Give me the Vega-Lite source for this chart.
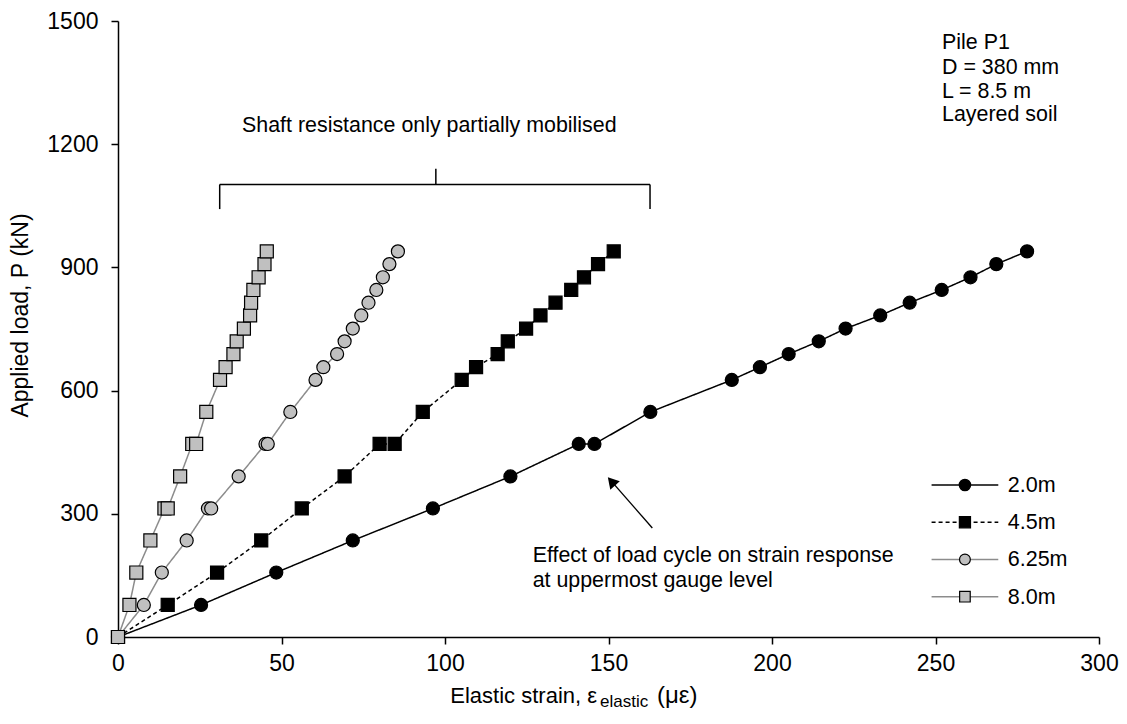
{
  "$schema": "https://vega.github.io/schema/vega-lite/v6.json",
  "autosize": {"type": "none"},
  "width": 981,
  "height": 616,
  "padding": {"left": 118, "top": 21, "right": 28, "bottom": 87},
  "background": "white",
  "config": {
    "view": {"stroke": null},
    "font": "Liberation Sans",
    "axis": {
      "domainColor": "black", "domainWidth": 1.5,
      "tickColor": "black", "tickWidth": 1.5, "tickSize": 7,
      "labelFont": "Liberation Sans", "labelFontSize": 23, "labelColor": "black",
      "titleFont": "Liberation Sans", "titleFontSize": 23, "titleFontWeight": "normal", "titleColor": "black",
      "grid": false, "labelFlush": false, "labelOverlap": false, "format": "d"
    }
  },
  "datasets": {
    "strain": [
      {"series": "2.0m", "load": 0, "strain": 0},
      {"series": "2.0m", "load": 78, "strain": 25.4},
      {"series": "2.0m", "load": 157, "strain": 48.4},
      {"series": "2.0m", "load": 235, "strain": 71.8},
      {"series": "2.0m", "load": 313, "strain": 96.3},
      {"series": "2.0m", "load": 391, "strain": 120.0},
      {"series": "2.0m", "load": 470, "strain": 140.9},
      {"series": "2.0m", "load": 470, "strain": 145.7},
      {"series": "2.0m", "load": 548, "strain": 162.8},
      {"series": "2.0m", "load": 626, "strain": 187.7},
      {"series": "2.0m", "load": 657, "strain": 196.3},
      {"series": "2.0m", "load": 689, "strain": 205.1},
      {"series": "2.0m", "load": 720, "strain": 214.3},
      {"series": "2.0m", "load": 751, "strain": 222.5},
      {"series": "2.0m", "load": 783, "strain": 233.1},
      {"series": "2.0m", "load": 814, "strain": 242.1},
      {"series": "2.0m", "load": 845, "strain": 251.9},
      {"series": "2.0m", "load": 876, "strain": 260.7},
      {"series": "2.0m", "load": 908, "strain": 268.6},
      {"series": "2.0m", "load": 939, "strain": 278.0},
      {"series": "4.5m", "load": 0, "strain": 0},
      {"series": "4.5m", "load": 78, "strain": 15.2},
      {"series": "4.5m", "load": 157, "strain": 30.3},
      {"series": "4.5m", "load": 235, "strain": 43.8},
      {"series": "4.5m", "load": 313, "strain": 56.2},
      {"series": "4.5m", "load": 391, "strain": 69.3},
      {"series": "4.5m", "load": 470, "strain": 80.0},
      {"series": "4.5m", "load": 470, "strain": 84.6},
      {"series": "4.5m", "load": 548, "strain": 93.2},
      {"series": "4.5m", "load": 626, "strain": 105.1},
      {"series": "4.5m", "load": 657, "strain": 109.5},
      {"series": "4.5m", "load": 689, "strain": 116.1},
      {"series": "4.5m", "load": 720, "strain": 119.2},
      {"series": "4.5m", "load": 751, "strain": 124.8},
      {"series": "4.5m", "load": 783, "strain": 129.2},
      {"series": "4.5m", "load": 814, "strain": 133.8},
      {"series": "4.5m", "load": 845, "strain": 138.6},
      {"series": "4.5m", "load": 876, "strain": 142.5},
      {"series": "4.5m", "load": 908, "strain": 146.8},
      {"series": "4.5m", "load": 939, "strain": 151.6},
      {"series": "6.25m", "load": 0, "strain": 0},
      {"series": "6.25m", "load": 78, "strain": 7.9},
      {"series": "6.25m", "load": 157, "strain": 13.4},
      {"series": "6.25m", "load": 235, "strain": 21.0},
      {"series": "6.25m", "load": 313, "strain": 27.5},
      {"series": "6.25m", "load": 313, "strain": 28.5},
      {"series": "6.25m", "load": 391, "strain": 36.9},
      {"series": "6.25m", "load": 470, "strain": 45.1},
      {"series": "6.25m", "load": 470, "strain": 45.8},
      {"series": "6.25m", "load": 548, "strain": 52.7},
      {"series": "6.25m", "load": 626, "strain": 60.4},
      {"series": "6.25m", "load": 657, "strain": 62.8},
      {"series": "6.25m", "load": 689, "strain": 67.0},
      {"series": "6.25m", "load": 720, "strain": 69.3},
      {"series": "6.25m", "load": 751, "strain": 71.8},
      {"series": "6.25m", "load": 783, "strain": 74.4},
      {"series": "6.25m", "load": 814, "strain": 76.6},
      {"series": "6.25m", "load": 845, "strain": 79.0},
      {"series": "6.25m", "load": 876, "strain": 81.0},
      {"series": "6.25m", "load": 908, "strain": 83.0},
      {"series": "6.25m", "load": 939, "strain": 85.6},
      {"series": "8.0m", "load": 0, "strain": 0},
      {"series": "8.0m", "load": 78, "strain": 3.5},
      {"series": "8.0m", "load": 157, "strain": 5.6},
      {"series": "8.0m", "load": 235, "strain": 9.9},
      {"series": "8.0m", "load": 313, "strain": 14.2},
      {"series": "8.0m", "load": 313, "strain": 15.2},
      {"series": "8.0m", "load": 391, "strain": 19.0},
      {"series": "8.0m", "load": 470, "strain": 22.7},
      {"series": "8.0m", "load": 470, "strain": 23.9},
      {"series": "8.0m", "load": 548, "strain": 27.0},
      {"series": "8.0m", "load": 626, "strain": 31.2},
      {"series": "8.0m", "load": 657, "strain": 32.9},
      {"series": "8.0m", "load": 689, "strain": 35.3},
      {"series": "8.0m", "load": 720, "strain": 36.3},
      {"series": "8.0m", "load": 751, "strain": 38.5},
      {"series": "8.0m", "load": 783, "strain": 40.4},
      {"series": "8.0m", "load": 814, "strain": 40.7},
      {"series": "8.0m", "load": 845, "strain": 41.4},
      {"series": "8.0m", "load": 876, "strain": 43.0},
      {"series": "8.0m", "load": 908, "strain": 44.8},
      {"series": "8.0m", "load": 939, "strain": 45.5}
    ],
    "legendRows": [
      {"series": "2.0m"},
      {"series": "4.5m"},
      {"series": "6.25m"},
      {"series": "8.0m"}
    ]
  },
  "resolve": {"scale": {"y": "independent"}, "axis": {"y": "independent"}},
  "layer": [
    {
      "layer": [
        {
          "data": {"name": "strain"},
          "mark": {"type": "line", "strokeWidth": 1.5},
          "encoding": {
            "x": {"field": "strain", "type": "quantitative", "scale": {"domain": [0, 300], "nice": false},
                  "axis": {"title": null, "values": [0, 50, 100, 150, 200, 250, 300], "labelPadding": 8}},
            "y": {"field": "load", "type": "quantitative", "scale": {"domain": [0, 1500], "nice": false},
                  "axis": {"title": "Applied load, P (kN)", "values": [0, 300, 600, 900, 1200, 1500], "labelPadding": 13, "titlePadding": 14, "titleY": 294}},
            "color": {"field": "series", "type": "nominal", "legend": null,
                      "scale": {"domain": ["2.0m", "4.5m", "6.25m", "8.0m"], "range": ["#000000", "#000000", "#8c8c8c", "#8c8c8c"]}},
            "strokeDash": {"field": "series", "type": "nominal", "legend": null,
                      "scale": {"domain": ["2.0m", "4.5m", "6.25m", "8.0m"], "range": [[1, 0], [4, 3], [1, 0], [1, 0]]}}
          }
        },
        {
          "data": {"name": "strain"},
          "mark": {"type": "point", "filled": true, "stroke": "black", "strokeWidth": 1.2, "size": 170, "opacity": 1},
          "encoding": {
            "x": {"field": "strain", "type": "quantitative"},
            "y": {"field": "load", "type": "quantitative"},
            "fill": {"field": "series", "type": "nominal", "legend": null,
                     "scale": {"domain": ["2.0m", "4.5m", "6.25m", "8.0m"], "range": ["#000000", "#000000", "#c0c0c0", "#c0c0c0"]}},
            "shape": {"field": "series", "type": "nominal", "legend": null,
                      "scale": {"domain": ["2.0m", "4.5m", "6.25m", "8.0m"], "range": ["circle", "square", "circle", "square"]}}
          }
        },
        {
          "data": {"values": [
            {"x": 31.1, "x2": 162.7, "y": 1102, "y2": 1102},
            {"x": 31.1, "x2": 31.1, "y": 1102, "y2": 1042},
            {"x": 162.7, "x2": 162.7, "y": 1102, "y2": 1042},
            {"x": 97.2, "x2": 97.2, "y": 1102, "y2": 1140}
          ]},
          "mark": {"type": "rule", "color": "black", "strokeWidth": 1.5},
          "encoding": {
            "x": {"field": "x", "type": "quantitative"},
            "x2": {"field": "x2"},
            "y": {"field": "y", "type": "quantitative"},
            "y2": {"field": "y2"}
          }
        },
        {
          "data": {"values": [{"x": 163.4, "x2": 150.8, "y": 265.4, "y2": 380.3}]},
          "mark": {"type": "rule", "color": "black", "strokeWidth": 1.3},
          "encoding": {
            "x": {"field": "x", "type": "quantitative"},
            "x2": {"field": "x2"},
            "y": {"field": "y", "type": "quantitative"},
            "y2": {"field": "y2"}
          }
        },
        {
          "data": {"values": [{"x": 150.9, "y": 379}]},
          "mark": {"type": "point", "shape": "triangle-up", "filled": true, "color": "black", "opacity": 1, "size": 160, "angle": -41},
          "encoding": {
            "x": {"field": "x", "type": "quantitative"},
            "y": {"field": "y", "type": "quantitative"}
          }
        },
        {
          "data": {"values": [
            {"x": 252.0, "y": 1431, "text": "Pile P1"},
            {"x": 252.0, "y": 1372, "text": "D = 380 mm"},
            {"x": 252.0, "y": 1313, "text": "L = 8.5 m"},
            {"x": 252.0, "y": 1256, "text": "Layered soil"},
            {"x": 126.8, "y": 182.6, "text": "Effect of load cycle on strain response"},
            {"x": 126.8, "y": 121.7, "text": "at uppermost gauge level"}
          ]},
          "mark": {"type": "text", "align": "left", "baseline": "alphabetic", "font": "Liberation Sans", "fontSize": 21.4, "color": "black"},
          "encoding": {
            "x": {"field": "x", "type": "quantitative"},
            "y": {"field": "y", "type": "quantitative"},
            "text": {"field": "text"}
          }
        },
        {
          "data": {"values": [{"x": 95.2, "y": 1229, "text": "Shaft resistance only partially mobilised"}]},
          "mark": {"type": "text", "align": "center", "baseline": "alphabetic", "font": "Liberation Sans", "fontSize": 21.4, "color": "black"},
          "encoding": {
            "x": {"field": "x", "type": "quantitative"},
            "y": {"field": "y", "type": "quantitative"},
            "text": {"field": "text"}
          }
        },
        {
          "data": {"values": [{"x": 146.5, "y": -160.7, "text": "Elastic strain, ε"}]},
          "mark": {"type": "text", "align": "right", "baseline": "alphabetic", "font": "Liberation Sans", "fontSize": 22, "color": "black"},
          "encoding": {
            "x": {"field": "x", "type": "quantitative"},
            "y": {"field": "y", "type": "quantitative"},
            "text": {"field": "text"}
          }
        },
        {
          "data": {"values": [{"x": 147.4, "y": -170.4, "text": "elastic"}]},
          "mark": {"type": "text", "align": "left", "baseline": "alphabetic", "font": "Liberation Sans", "fontSize": 17, "color": "black"},
          "encoding": {
            "x": {"field": "x", "type": "quantitative"},
            "y": {"field": "y", "type": "quantitative"},
            "text": {"field": "text"}
          }
        },
        {
          "data": {"values": [{"x": 164.8, "y": -160.7, "text": "(με)"}]},
          "mark": {"type": "text", "align": "left", "baseline": "alphabetic", "font": "Liberation Sans", "fontSize": 24, "color": "black"},
          "encoding": {
            "x": {"field": "x", "type": "quantitative"},
            "y": {"field": "y", "type": "quantitative"},
            "text": {"field": "text"}
          }
        }
      ]
    },
    {
      "data": {"name": "legendRows"},
      "encoding": {
        "y": {"field": "series", "type": "nominal", "axis": null,
              "scale": {"type": "point", "domain": ["2.0m", "4.5m", "6.25m", "8.0m"], "range": [464, 575.7], "padding": 0}}
      },
      "layer": [
        {
          "mark": {"type": "rule", "strokeWidth": 1.5},
          "encoding": {
            "x": {"datum": 248.8},
            "x2": {"datum": 269.2},
            "color": {"field": "series", "type": "nominal", "legend": null},
            "strokeDash": {"field": "series", "type": "nominal", "legend": null}
          }
        },
        {
          "mark": {"type": "point", "filled": true, "stroke": "black", "strokeWidth": 1.2, "opacity": 1},
          "encoding": {
            "x": {"datum": 259.0},
            "fill": {"field": "series", "type": "nominal", "legend": null},
            "shape": {"field": "series", "type": "nominal", "legend": null},
            "size": {"field": "series", "type": "nominal", "legend": null,
                     "scale": {"domain": ["2.0m", "4.5m", "6.25m", "8.0m"], "range": [130, 112, 130, 112]}}
          }
        },
        {
          "mark": {"type": "text", "align": "left", "baseline": "middle", "font": "Liberation Sans", "fontSize": 21.5, "color": "black", "dy": 1},
          "encoding": {
            "x": {"datum": 272.1},
            "text": {"field": "series"}
          }
        }
      ]
    }
  ]
}
